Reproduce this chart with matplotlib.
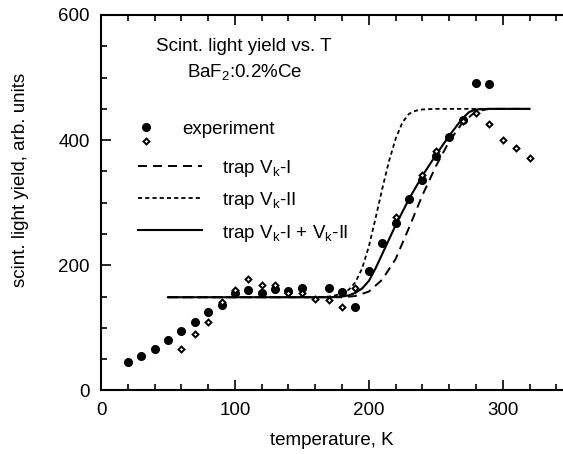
import matplotlib
matplotlib.use('Agg')
import matplotlib.pyplot as plt

plt.rcParams['font.family'] = ['Liberation Sans', 'DejaVu Sans']
plt.rcParams['mathtext.default'] = 'regular'
plt.rcParams['lines.scale_dashes'] = False

# experiment, filled circles
t_circ = [20, 30, 40, 50, 60, 70, 80, 90, 100, 110, 120, 130, 140, 150, 170, 180, 190,
          200, 210, 220, 230, 240, 250, 260, 270, 280, 290]
y_circ = [45, 55, 66, 81, 95, 109, 125, 137, 155, 161, 156, 162, 159, 164, 164, 157, 134,
          191, 236, 268, 306, 336, 374, 405, 432, 492, 489]

# experiment, open diamonds
t_diam = [60, 70, 80, 90, 100, 110, 120, 130, 140, 150, 160, 170, 180, 190,
          220, 240, 250, 270, 280, 290, 300, 310, 320]
y_diam = [67, 90, 109, 141, 161, 178, 168, 168, 155, 155, 146, 144, 134, 163,
          277, 344, 383, 430, 444, 426, 400, 388, 372]

# model curves
t_vk1 = [50, 170, 180, 190, 200, 210, 220, 230, 240, 250, 260, 270, 280, 290, 320]
y_vk1 = [149, 149, 149, 151, 158, 177, 210, 260, 312, 358, 398, 428, 446, 450, 450]

t_vk2 = [50, 160, 170, 175, 180, 185, 190, 195, 200, 205, 210, 215, 220, 225, 230, 235, 240, 250, 320]
y_vk2 = [149, 149, 150, 152, 155, 161, 173, 195, 230, 275, 322, 366, 402, 428, 442, 447, 449, 450, 450]

t_sum = [50, 170, 180, 185, 190, 195, 200, 205, 210, 220, 230, 240, 250, 260, 265, 270, 275, 280, 290, 320]
y_sum = [149, 149, 150, 152, 156, 163, 175, 195, 218, 264, 306, 343, 376, 407, 421, 435, 445, 449, 450, 450]

FS = 13.5

fig = plt.figure(figsize=(5.63, 4.54), dpi=100)
ax = fig.add_axes([0.1794, 0.1399, 0.8206, 0.8271])

ax.plot(t_vk1, y_vk1, color='black', lw=1.4, dashes=(6.5, 4.3))
ax.plot(t_vk2, y_vk2, color='black', lw=1.3, dashes=(3.0, 2.2))
ax.plot(t_sum, y_sum, color='black', lw=1.5)
ax.plot(t_circ, y_circ, 'o', color='black', ms=5.5, ls='none')
ax.plot(t_diam, y_diam, 'D', mfc='white', mec='black', mew=1.4, ms=3.0, ls='none')

ax.set_xlim(0, 345)
ax.set_ylim(0, 600)
ax.set_xticks([0, 100, 200, 300])
ax.set_xticks(range(20, 345, 20), minor=True)
ax.set_yticks([0, 200, 400, 600])
ax.set_yticks(range(50, 600, 50), minor=True)

for s in ['left', 'bottom', 'top']:
    ax.spines[s].set_linewidth(1.5)
ax.spines['right'].set_visible(False)
ax.tick_params(which='both', direction='in', top=True, right=False, width=1.2,
               labelsize=FS, colors='black')
ax.tick_params(which='major', length=7, pad=8)
ax.tick_params(which='minor', length=4)

ax.set_xlabel('temperature, K', fontsize=FS, labelpad=10)
ax.set_ylabel('scint. light yield, arb. units', fontsize=FS)
ax.yaxis.set_label_coords(-0.155, 0.56)

ax.text(0.31, 0.915, 'Scint. light yield vs. T', transform=ax.transAxes,
        ha='center', va='center', fontsize=FS)
ax.text(0.31, 0.848, 'BaF$_2$:0.2%Ce', transform=ax.transAxes,
        ha='center', va='center', fontsize=FS)

# legend drawn by hand
ax.plot([0.097], [0.702], 'o', color='black', ms=5.5, transform=ax.transAxes)
ax.plot([0.097], [0.664], 'D', mfc='white', mec='black', mew=1.4, ms=3.0,
        transform=ax.transAxes)
ax.text(0.175, 0.694, 'experiment', transform=ax.transAxes, va='center', fontsize=FS)

legend_rows = [
    (0.598, 'trap V$_k$-I', dict(lw=1.4, dashes=(6.5, 4.3))),
    (0.513, 'trap V$_k$-II', dict(lw=1.3, dashes=(3.0, 2.2))),
    (0.427, 'trap V$_k$-I + V$_k$-II', dict(lw=1.5)),
]
for yy, label, style in legend_rows:
    ax.plot([0.080, 0.218], [yy, yy], color='black', transform=ax.transAxes, **style)
    ax.text(0.261, yy, label, transform=ax.transAxes, va='center_baseline', fontsize=FS)

fig.savefig('out.png', dpi=100)
